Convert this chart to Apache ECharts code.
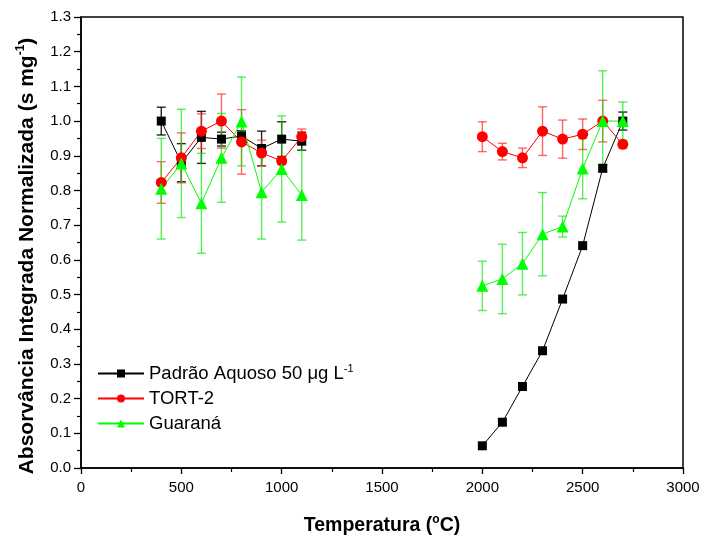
<!DOCTYPE html>
<html>
<head>
<meta charset="utf-8">
<script src="https://cdn.jsdelivr.net/npm/echarts@6/dist/echarts.min.js"></script>
<style>html,body{margin:0;padding:0;background:#fff}#c{width:704px;height:537px}</style>
</head>
<body>
<div id="c"></div>
<script>
// ---- data ----
var temps = [400, 500, 600, 700, 800, 900, 1000, 1100, 2000, 2100, 2200, 2300, 2400, 2500, 2600, 2700];
var padraoY = [1.000, 0.880, 0.953, 0.948, 0.957, 0.921, 0.948, 0.942, 0.064, 0.132, 0.235, 0.338, 0.487, 0.641, 0.864, 1.000];
var padraoErr = [0.040, 0.055, 0.075, 0.020, 0.015, 0.050, 0.050, 0.026, 0, 0, 0, 0, 0, 0, 0.010, 0.026];
var tortY = [0.823, 0.894, 0.971, 1.000, 0.940, 0.908, 0.885, 0.955, 0.955, 0.912, 0.894, 0.971, 0.948, 0.962, 1.000, 0.933];
var tortErr = [0.060, 0.072, 0.050, 0.078, 0.093, 0.037, 0.010, 0.022, 0.043, 0.024, 0.028, 0.070, 0.055, 0.044, 0.060, 0.010];
var guaranaY = [0.805, 0.878, 0.763, 0.894, 0.999, 0.795, 0.862, 0.787, 0.525, 0.545, 0.589, 0.674, 0.696, 0.863, 1.000, 1.000];
var guaranaErr = [0.145, 0.156, 0.144, 0.128, 0.128, 0.135, 0.153, 0.130, 0.071, 0.100, 0.090, 0.120, 0.030, 0.087, 0.145, 0.055];
var seriesNames = ['Padrão Aquoso 50 μg L', 'TORT-2', 'Guaraná'];
var splitIndex = 8; // gap between the two temperature groups
var xTicks = [0, 500, 1000, 1500, 2000, 2500, 3000];
var yTicks = [0.0, 0.1, 0.2, 0.3, 0.4, 0.5, 0.6, 0.7, 0.8, 0.9, 1.0, 1.1, 1.2, 1.3];
var yTitle = 'Absorvância Integrada Normalizada (s mg{sup|-1})';
var xTitle = 'Temperatura ({sup|o}C)';

// ---- build ----
var FONT = '"Liberation Sans", Arial, sans-serif';
function pts(ys, a, b) { var o = []; for (var i = a; i < b; i++) o.push([temps[i], ys[i]]); return o; }
function errPts(ys, es) { var o = []; for (var i = 0; i < temps.length; i++) if (es[i] > 0) o.push([temps[i], ys[i], es[i]]); return o; }

function errSeries(ys, es, color) {
  return {
    type: 'custom', name: '_err', z: 1, silent: true,
    data: errPts(ys, es),
    encode: { x: 0, y: 1 },
    renderItem: function (params, api) {
      var x = api.value(0), y = api.value(1), e = api.value(2);
      var t = api.coord([x, y + e]), b = api.coord([x, y - e]);
      var h = 4.5;
      var st = { stroke: color, lineWidth: 1.4 };
      return { type: 'group', children: [
        { type: 'line', shape: { x1: t[0], y1: t[1], x2: b[0], y2: b[1] }, style: st },
        { type: 'line', shape: { x1: t[0] - h, y1: t[1], x2: t[0] + h, y2: t[1] }, style: st },
        { type: 'line', shape: { x1: b[0] - h, y1: b[1], x2: b[0] + h, y2: b[1] }, style: st }
      ]};
    }
  };
}
function lineSeries(name, ys, color, symbol, size, a, b) {
  return {
    type: 'line', name: name, z: 3, data: pts(ys, a, b),
    symbol: symbol, symbolSize: size, showAllSymbol: true,
    lineStyle: { color: color, width: 1 },
    itemStyle: { color: color, borderColor: color, borderWidth: 0 },
    animation: false
  };
}
var cfg = [
  [seriesNames[0], padraoY, padraoErr, '#000000', 'rgba(0,0,0,0.85)', 'rect', 9],
  [seriesNames[1], tortY, tortErr, '#ff0000', 'rgba(255,40,40,0.7)', 'circle', 11],
  [seriesNames[2], guaranaY, guaranaErr, '#00ff00', 'rgba(0,230,0,0.65)', 'triangle', 12]
];
var series = [];
cfg.forEach(function (c) { series.push(errSeries(c[1], c[2], c[4])); });
cfg.forEach(function (c) {
  series.push(lineSeries(c[0], c[1], c[3], c[5], c[6], 0, splitIndex));
  series.push(lineSeries(c[0], c[1], c[3], c[5], c[6], splitIndex, temps.length));
});

var chart = echarts.init(document.getElementById('c'), null, { renderer: 'canvas' });
chart.setOption({
  animation: false,
  backgroundColor: '#ffffff',
  grid: { left: 81, right: 21, top: 17, bottom: 69, containLabel: false, outerBoundsMode: 'none',
    show: true, borderColor: '#000', borderWidth: 1.5, backgroundColor: 'transparent' },
  legend: {
    data: seriesNames, orient: 'vertical', left: 97, top: 363, itemGap: 6, padding: 0,
    itemWidth: 46, itemHeight: 10,
    formatter: function (n) { return n === seriesNames[0] ? n + '{sup|-1}' : n; },
    textStyle: { fontFamily: FONT, fontSize: 18.5, color: '#000',
      rich: { sup: { fontFamily: FONT, fontSize: 11, color: '#000', padding: [0, 0, 10, 0] } } }
  },
  graphic: [{
    type: 'text', x: 27, y: 256, rotation: Math.PI / 2, silent: true,
    style: { text: yTitle, x: 0, y: 0, align: 'center', verticalAlign: 'middle',
      fontFamily: FONT, fontWeight: 'bold', fontSize: 21, fill: '#000',
      rich: { sup: { fontFamily: FONT, fontWeight: 'bold', fontSize: 12, padding: [0, 0, 12, 0] } } }
  }],
  xAxis: {
    type: 'value', min: xTicks[0], max: xTicks[xTicks.length - 1], interval: 500,
    name: xTitle, nameLocation: 'middle', nameGap: 46,
    nameTextStyle: { fontFamily: FONT, fontWeight: 'bold', fontSize: 19.5, color: '#000',
      rich: { sup: { fontFamily: FONT, fontWeight: 'bold', fontSize: 12, padding: [0, 0, 11, 0] } } },
    axisLine: { show: true, lineStyle: { color: '#000', width: 1.5 } },
    axisTick: { show: true, inside: false, length: 6, lineStyle: { color: '#000', width: 1.3 } },
    minorTick: { show: true, splitNumber: 2, length: 4, lineStyle: { color: '#000', width: 1.2 } },
    axisLabel: { fontFamily: FONT, fontSize: 15, color: '#000', margin: 12,
      formatter: function (v) { return String(v); } },
    splitLine: { show: false }
  },
  yAxis: {
    type: 'value', min: 0, max: 1.3, interval: 0.1,
    axisLine: { show: true, lineStyle: { color: '#000', width: 1.5 } },
    axisTick: { show: true, inside: false, length: 7, lineStyle: { color: '#000', width: 1.3 } },
    minorTick: { show: true, splitNumber: 2, length: 4, lineStyle: { color: '#000', width: 1.2 } },
    axisLabel: { fontFamily: FONT, fontSize: 15, color: '#000', margin: 10,
      formatter: function (v) { return v.toFixed(1); } },
    splitLine: { show: false }
  },
  series: series
});
</script>
</body>
</html>
